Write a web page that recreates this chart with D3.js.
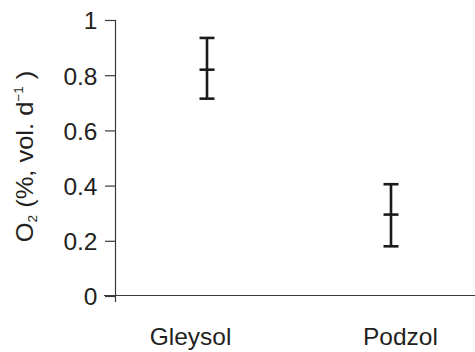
<!DOCTYPE html>
<html>
<head>
<meta charset="utf-8">
<script src="https://cdn.jsdelivr.net/npm/d3@7/dist/d3.min.js"></script>
<style>
  html, body { margin: 0; padding: 0; background: #fff; }
  svg { display: block; }
  text { font-family: "Liberation Sans", Arial, Helvetica, sans-serif; fill: #231f20; }
</style>
</head>
<body>
<svg id="chart" width="475" height="352"></svg>
<script>
// Soil types and O2 consumption (mean with lower / upper error limits)
const categories = ["Gleysol", "Podzol"];
const meanValues = [0.82, 0.295];
const lowerValues = [0.715, 0.18];
const upperValues = [0.935, 0.405];
const yTicks = [0, 0.2, 0.4, 0.6, 0.8, 1];
const yTickLabels = ["0", "0.2", "0.4", "0.6", "0.8", "1"];

const svg = d3.select("#chart");
const axisColor = "#3a3a3a";
const barColor = "#1d1a1b";

const y = d3.scaleLinear().domain([0, 1]).range([296, 20]);
const x = d3.scalePoint().domain(categories).range([115, 483]).padding(0.5);
const xLabel = d3.scalePoint().domain(categories).range([190.5, 400.5]);

// y axis
const yAxis = d3.axisLeft(y)
  .tickValues(yTicks)
  .tickFormat((d, i) => yTickLabels[i])
  .tickSize(10.5)
  .tickSizeOuter(0)
  .tickPadding(7.5);

const gy = svg.append("g").attr("transform", "translate(115.5,0)").call(yAxis);
gy.select(".domain").remove();
gy.selectAll(".tick line").attr("stroke", axisColor).attr("stroke-width", 1.2);
gy.selectAll(".tick text")
  .attr("font-size", 24.5)
  .attr("font-family", "Liberation Sans, Arial, sans-serif")
  .attr("fill", "#231f20")
  .attr("dy", "0.36em");

gy.append("line")
  .attr("x1", 0).attr("x2", 0)
  .attr("y1", y(1)).attr("y2", y(0) + 6)
  .attr("stroke", axisColor).attr("stroke-width", 1.2);

// x axis line
svg.append("line")
  .attr("x1", 104).attr("x2", 475)
  .attr("y1", y(0) - 0.5).attr("y2", y(0) - 0.5)
  .attr("stroke", axisColor).attr("stroke-width", 1.2);

// category labels
svg.selectAll("text.cat")
  .data(categories)
  .join("text")
  .attr("class", "cat")
  .attr("x", d => xLabel(d))
  .attr("y", 345)
  .attr("text-anchor", "middle")
  .attr("font-size", 24.5)
  .text(d => d);

// y axis title
const title = svg.append("text")
  .attr("transform", "translate(33,156.5) rotate(-90) scale(1.04,1)")
  .attr("text-anchor", "middle")
  .attr("font-size", 24.5);
title.append("tspan").text("O");
title.append("tspan").attr("font-size", 13).attr("dy", 4).text("2");
title.append("tspan").attr("dy", -4).text(" (%, vol. d");
title.append("tspan").attr("font-size", 13).attr("dy", -10).text("−1");
title.append("tspan").attr("dy", 10).text(" )");

// error bars
const capHalf = 7.5;
const bars = svg.selectAll("g.err")
  .data(categories.map((c, i) => ({ c, m: meanValues[i], lo: lowerValues[i], hi: upperValues[i] })))
  .join("g")
  .attr("class", "err")
  .attr("stroke", barColor)
  .attr("stroke-width", 2.6);

bars.append("line")
  .attr("x1", d => x(d.c)).attr("x2", d => x(d.c))
  .attr("y1", d => y(d.hi)).attr("y2", d => y(d.lo));
bars.append("line")
  .attr("x1", d => x(d.c) - capHalf).attr("x2", d => x(d.c) + capHalf)
  .attr("y1", d => y(d.hi)).attr("y2", d => y(d.hi));
bars.append("line")
  .attr("x1", d => x(d.c) - capHalf).attr("x2", d => x(d.c) + capHalf)
  .attr("y1", d => y(d.lo)).attr("y2", d => y(d.lo));
bars.append("line")
  .attr("x1", d => x(d.c) - capHalf).attr("x2", d => x(d.c) + capHalf)
  .attr("y1", d => y(d.m)).attr("y2", d => y(d.m));
</script>
</body>
</html>
